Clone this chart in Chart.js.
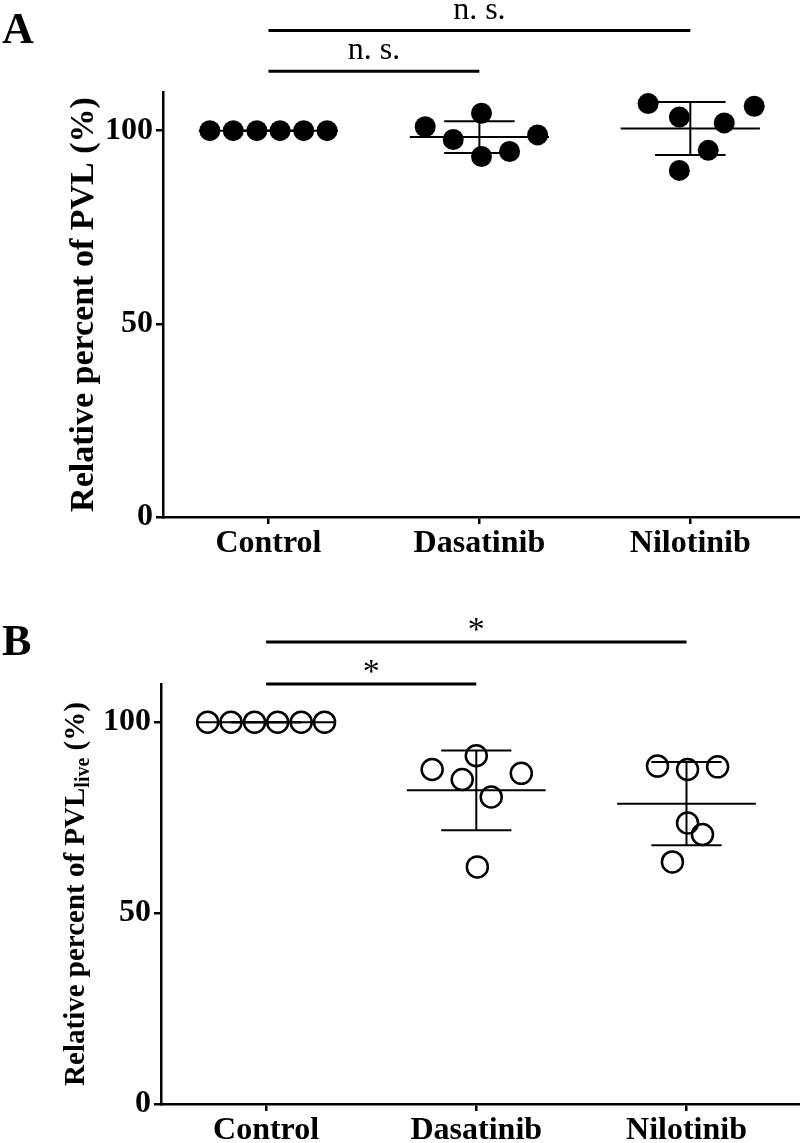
<!DOCTYPE html>
<html>
<head>
<meta charset="utf-8">
<script src="https://cdn.jsdelivr.net/npm/chart.js@4.4.1/dist/chart.umd.min.js"></script>
<style>
  html, body { margin: 0; padding: 0; background: #fff; }
  #wrap { position: relative; width: 800px; height: 1143px; overflow: hidden; }
  canvas { position: absolute; left: 0; }
</style>
</head>
<body>
<div id="wrap">
  <canvas id="chartA" width="800" height="575" style="top:0px"></canvas>
  <canvas id="chartB" width="800" height="568" style="top:575px"></canvas>
</div>
<script>
const groups = ['Control', 'Dasatinib', 'Nilotinib']
const yTicks = [0, 50, 100]

// panel A: relative PVL (%)
const controlA = [100, 100, 100, 100, 100, 100]
const dasatinibA = [101.0, 104.5, 97.7, 98.9, 93.3, 94.6]
const nilotinibA = [107.0, 106.3, 103.5, 102.0, 94.9, 89.7]

// panel B: relative PVL live (%)
const controlB = [100, 100, 100, 100, 100, 100]
const dasatinibB = [91.2, 87.6, 86.6, 85.0, 80.4, 62.1]
const nilotinibB = [88.5, 87.6, 88.3, 73.6, 70.6, 63.4]

// sideways spread of the dots inside a column, in category units
const spreadControl = [-0.278, -0.167, -0.055, 0.055, 0.167, 0.278]
const spreadDasatinibA = [-0.257, 0.01, -0.124, 0.276, 0.01, 0.143]
const spreadNilotinibA = [-0.2, 0.303, -0.052, 0.161, 0.085, -0.052]
const spreadDasatinibB = [0, -0.21, 0.214, -0.067, 0.071, 0.005]
const spreadNilotinibB = [-0.138, 0.005, 0.148, 0.005, 0.076, -0.067]

const FONT = '"Liberation Serif", "Times New Roman", serif'

const mean = (a) => a.reduce((s, v) => s + v, 0) / a.length
const sd = (a) => {
    const m = mean(a)
    return Math.sqrt(a.reduce((s, v) => s + (v - m) ** 2, 0) / (a.length - 1))
}

const segment = (pts, width) => ({
    type: 'line',
    data: pts,
    borderColor: '#000',
    borderWidth: width,
    pointRadius: 0,
    fill: false,
    clip: false,
})

function errorBars(values, pos) {
    const m = mean(values)
    const s = sd(values)
    return [
        segment([{x: pos - 0.33, y: m}, {x: pos + 0.33, y: m}], 2),
        segment([{x: pos - 0.167, y: m + s}, {x: pos + 0.167, y: m + s}], 2),
        segment([{x: pos - 0.167, y: m - s}, {x: pos + 0.167, y: m - s}], 2),
        segment([{x: pos, y: m - s}, {x: pos, y: m + s}], 2),
    ]
}

function dots(values, spread, pos, filled) {
    return {
        type: 'scatter',
        data: values.map((v, i) => ({x: pos + spread[i], y: v})),
        pointRadius: 10.5,
        pointBackgroundColor: filled ? '#000' : 'rgba(0,0,0,0)',
        pointBorderColor: '#000',
        pointBorderWidth: filled ? 0 : 2.5,
        clip: false,
    }
}

const panelText = {
    id: 'panelText',
    afterDraw(chart, args, opts) {
        const {ctx, scales: {x, y}, chartArea} = chart
        ctx.save()
        ctx.fillStyle = '#000'

        ctx.font = `bold 44px ${FONT}`
        ctx.textAlign = 'left'
        ctx.textBaseline = 'alphabetic'
        ctx.fillText(opts.letter, 2, opts.letterY)

        ctx.textAlign = 'center'
        opts.marks.forEach((m) => {
            ctx.font = `${m.size}px ${FONT}`
            const px = x.getPixelForValue((m.from + m.to) / 2)
            const py = y.getPixelForValue(m.level) - m.lift
            ctx.fillText(m.text, px, py)
        })

        // rotated y title, with optional subscript
        const parts = opts.title
        const sizes = parts.map((p) => p.sub ? opts.subSize : opts.titleSize)
        const widths = parts.map((p, i) => {
            ctx.font = `bold ${sizes[i]}px ${FONT}`
            return ctx.measureText(p.text).width
        })
        const total = widths.reduce((s, w) => s + w, 0)
        ctx.translate(opts.titleX, (chartArea.top + chartArea.bottom) / 2)
        ctx.rotate(-Math.PI / 2)
        ctx.textAlign = 'left'
        let cx = -total / 2
        parts.forEach((p, i) => {
            ctx.font = `bold ${sizes[i]}px ${FONT}`
            ctx.fillText(p.text, cx, p.sub ? 5 : 0)
            cx += widths[i]
        })
        ctx.restore()
    }
}

function makeChart(canvas, cfg) {
    const datasets = [
        ...errorBars(cfg.values[0], 1),
        ...errorBars(cfg.values[1], 2),
        ...errorBars(cfg.values[2], 3),
        ...cfg.brackets.map((b) => segment([{x: b.from, y: b.level}, {x: b.to, y: b.level}], 3)),
        ...cfg.values.map((v, i) => dots(v, cfg.spread[i], i + 1, cfg.filled)),
    ]

    return new Chart(canvas, {
        type: 'scatter',
        data: {datasets},
        plugins: [panelText],
        options: {
            responsive: false,
            animation: false,
            events: [],
            layout: {autoPadding: false, padding: {top: cfg.top, left: 0, right: 0, bottom: 0}},
            plugins: {
                legend: {display: false},
                tooltip: {enabled: false},
                panelText: {
                    letter: cfg.letter,
                    letterY: cfg.letterY,
                    marks: cfg.brackets.map((b) => ({text: b.text, from: b.from, to: b.to, level: b.level, lift: b.lift, size: b.size})),
                    title: cfg.title,
                    titleX: cfg.titleX,
                    titleSize: cfg.titleSize,
                    subSize: cfg.subSize,
                },
            },
            scales: {
                x: {
                    type: 'linear',
                    position: 'bottom',
                    min: 0.5,
                    max: cfg.xMax,
                    afterBuildTicks: (scale) => { scale.ticks = [1, 2, 3].map((v) => ({value: v})) },
                    afterFit: (scale) => { scale.height = cfg.xAxisHeight },
                    grid: {drawOnChartArea: false, drawTicks: true, tickLength: 7, color: '#000', lineWidth: 2.5},
                    border: {display: true, color: '#000', width: 2.5},
                    ticks: {
                        padding: 1,
                        color: '#000',
                        font: {family: FONT, size: 32, weight: 'bold'},
                        callback: (v) => groups[v - 1] ?? '',
                    },
                },
                y: {
                    min: 0,
                    max: 110,
                    afterBuildTicks: (scale) => { scale.ticks = yTicks.map((v) => ({value: v})) },
                    afterFit: (scale) => { scale.width = cfg.yAxisWidth },
                    grid: {drawOnChartArea: false, drawTicks: true, tickLength: 7, color: '#000', lineWidth: 2.5},
                    border: {display: true, color: '#000', width: 2.5},
                    ticks: {
                        padding: 3,
                        color: '#000',
                        font: {family: FONT, size: 32, weight: 'bold'},
                    },
                },
            },
        },
    })
}

makeChart(document.getElementById('chartA'), {
    values: [controlA, dasatinibA, nilotinibA],
    spread: [spreadControl, spreadDasatinibA, spreadNilotinibA],
    filled: true,
    letter: 'A',
    letterY: 43,
    top: 92,
    xAxisHeight: 58,
    yAxisWidth: 163,
    xMax: 3.52,
    titleX: 93,
    titleSize: 34,
    subSize: 22,
    title: [{text: 'Relative percent of PVL (%)'}],
    brackets: [
        {from: 1, to: 2, level: 115.4, text: 'n. s.', lift: 12, size: 32},
        {from: 1, to: 3, level: 125.9, text: 'n. s.', lift: 12, size: 32},
    ],
})

makeChart(document.getElementById('chartB'), {
    values: [controlB, dasatinibB, nilotinibB],
    spread: [spreadControl, spreadDasatinibB, spreadNilotinibB],
    filled: false,
    letter: 'B',
    letterY: 80,
    top: 109,
    xAxisHeight: 39,
    yAxisWidth: 161,
    xMax: 3.54,
    titleX: 84,
    titleSize: 29,
    subSize: 20,
    title: [{text: 'Relative percent of PVL'}, {text: 'live', sub: true}, {text: ' (%)'}],
    brackets: [
        {from: 1, to: 2, level: 110, text: '*', lift: 2, size: 34},
        {from: 1, to: 3, level: 121.0, text: '*', lift: 2, size: 34},
    ],
})
</script>
</body>
</html>
